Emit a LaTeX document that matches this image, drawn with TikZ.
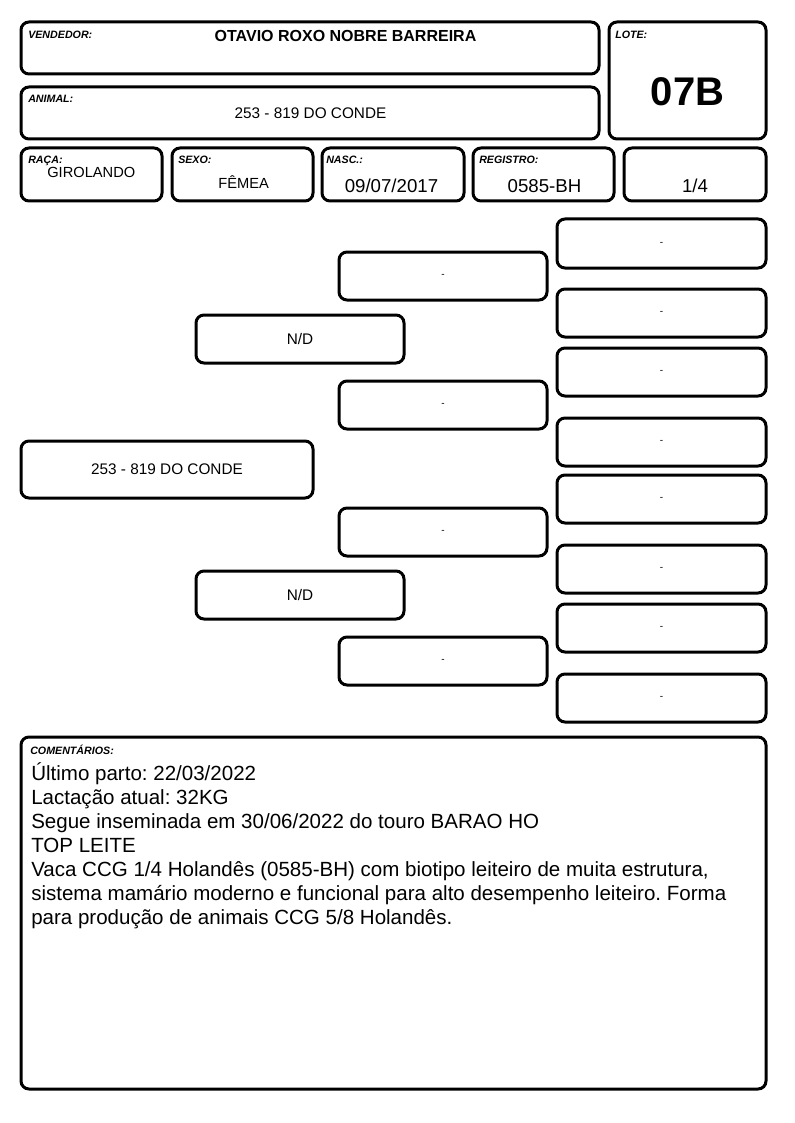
\documentclass[tikz,border=0pt]{standalone}
\usepackage{fontspec}
\setmainfont{Liberation Sans}
\usetikzlibrary{fit}
\frenchspacing
\tikzset{
    card/.style={draw, line width=2.25pt, rounded corners=6pt, inner sep=0pt},
    tag/.style={anchor=north west, inner sep=0pt, font=\fontsize{8}{9}\selectfont\bfseries\itshape},
    val/.style={anchor=base, inner sep=0pt, font=\fontsize{#1}{#1}\selectfont},
    val/.default=11.5,
    emptyval/.style={inner sep=0pt, font=\fontsize{7.5}{8}\selectfont},
}
\begin{document}
\begin{tikzpicture}[x=0.75pt, y=-0.75pt]
    \useasboundingbox (0,0) rectangle (794,1123);
    % header
    \node[card, fit={(21,22) (599,74)}] (vendedor) {};
    \node[card, fit={(21,87) (599,139)}] (animal) {};
    \node[card, fit={(609,22) (766,139)}] (lote) {};
    \node[tag] (tvendedor) at (28,31) {VENDEDOR:};
    \node[tag] (tanimal) at (28,95) {ANIMAL:};
    \node[tag] (tlote) at (615,31) {LOTE:};
    \node[val=12, font=\fontsize{12}{12}\selectfont\bfseries] (nome) at (345.5,42) {OTAVIO ROXO NOBRE BARREIRA};
    \node[val] (nanimal) at (310.5,119) {253 - 819 DO CONDE};
    \node[val, font=\fontsize{30}{30}\selectfont\bfseries] (nlote) at (687.5,106) {07B};
    % dados
    \node[card, fit={(21,148) (162,201)}] (raca) {};
    \node[card, fit={(172,148) (313,201)}] (sexo) {};
    \node[card, fit={(322,148) (464,201)}] (nasc) {};
    \node[card, fit={(473,148) (614,201)}] (registro) {};
    \node[card, fit={(624,148) (766,201)}] (grau) {};
    \node[tag] (traca) at (28,156) {RAÇA:};
    \node[tag] (tsexo) at (178,156) {SEXO:};
    \node[tag] (tnasc) at (326,156) {NASC.:};
    \node[tag] (tregistro) at (479,156) {REGISTRO:};
    \node[val=11] (nraca) at (91.3,178) {GIROLANDO};
    \node[val=11] (nsexo) at (243.7,189) {FÊMEA};
    \node[val=14] (nnasc) at (391.5,193) {09/07/2017};
    \node[val=14] (nregistro) at (544.5,193) {0585-BH};
    \node[val=14] (ngrau) at (695,193) {1/4};
    % genealogia
    \node[card, fit={(21,441) (313,498)}] (g0) {};
    \node[inner sep=0pt, font=\fontsize{11.5}{12}\selectfont] at (g0) {253 - 819 DO CONDE};
    \foreach \ya/\yb [count=\i] in {315/363, 571/619} {
        \node[card, fit={(196,\ya) (404,\yb)}] (g1\i) {};
        \node[inner sep=0pt, font=\fontsize{11.5}{12}\selectfont] at (g1\i) {N/D};
    }
    \foreach \ya/\yb [count=\i] in {252/300, 381/429, 508/556, 637/685} {
        \node[card, fit={(339,\ya) (547,\yb)}] (g2\i) {};
        \node[emptyval] at (g2\i) {-};
    }
    \foreach \ya/\yb [count=\i] in {219/268, 289/337, 348/396, 418/466, 475/523, 545/593, 604/652, 674/722} {
        \node[card, fit={(557,\ya) (766,\yb)}] (g3\i) {};
        \node[emptyval] at (g3\i) {-};
    }
    % comentarios
    \node[card, fit={(21,737) (766,1089)}] (comentarios) {};
    \node[tag] (tcomentarios) at (30,745) {COMENTÁRIOS:};
    \node[anchor=north west, inner sep=0pt, align=left, font=\fontsize{15.4}{18}\selectfont] (texto) at (31,762.5) {%
        Último parto: 22/03/2022\\
        Lactação atual: 32KG\\
        Segue inseminada em 30/06/2022 do touro BARAO HO\\
        TOP LEITE\\
        Vaca CCG 1/4 Holandês (0585-BH) com biotipo leiteiro de muita estrutura,\\
        sistema mamário moderno e funcional para alto desempenho leiteiro. Forma\\
        para produção de animais CCG 5/8 Holandês.};
\end{tikzpicture}
\end{document}
